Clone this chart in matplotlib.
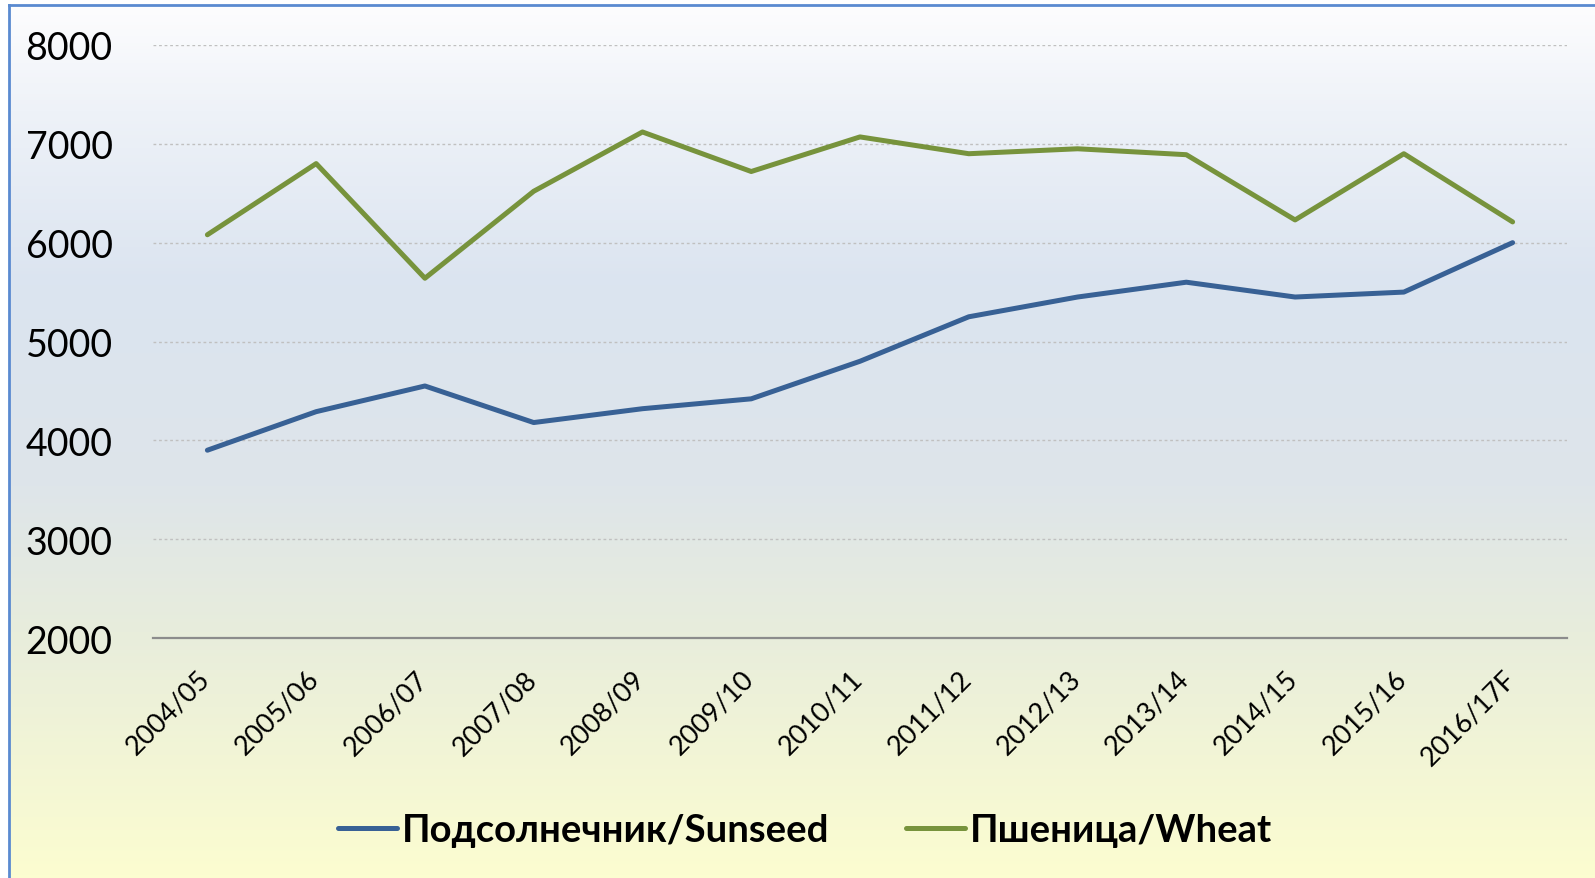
#!/usr/bin/env python3
# Sunseed vs wheat line chart, Excel-style gradient background
import numpy as np
import matplotlib
matplotlib.use("Agg")
import matplotlib.pyplot as plt
import matplotlib.transforms as mtransforms
from matplotlib.colors import LinearSegmentedColormap

# Data
seasons = ["2004/05", "2005/06", "2006/07", "2007/08", "2008/09", "2009/10",
           "2010/11", "2011/12", "2012/13", "2013/14", "2014/15", "2015/16",
           "2016/17F"]
sunseed = [3900, 4290, 4550, 4180, 4320, 4420, 4800, 5250, 5450, 5600,
           5450, 5500, 6000]
wheat = [6080, 6800, 5640, 6520, 7120, 6720, 7070, 6900, 6950, 6890,
         6230, 6900, 6210]
series_labels = ["Подсолнечник/Sunseed", "Пшеница/Wheat"]
y_ticks = [2000, 3000, 4000, 5000, 6000, 7000, 8000]

plt.rcParams['font.family'] = ['Lato', 'DejaVu Sans']

W, H = 1595, 879
fig = plt.figure(figsize=(W / 100, H / 100), dpi=100)
fig.patch.set_facecolor("white")

# Background gradient panel (top white -> blue -> yellow at bottom)
bg = fig.add_axes([9 / W, 0, 1 - 9 / W, 1 - 6 / H])
grad = LinearSegmentedColormap.from_list(
    "bg", [(0.0, "#fdfdfe"), (0.12, "#eef2f8"), (0.32, "#dbe4f0"),
           (0.55, "#dee5ea"), (0.72, "#e8eddc"), (1.0, "#fcfdd0")])
bg.imshow(np.linspace(0, 1, 256).reshape(-1, 1), aspect="auto", cmap=grad,
          extent=[0, 1, 0, 1], origin="upper")
bg.set_xlim(0, 1)
bg.set_ylim(0, 1)
bg.set_xticks([])
bg.set_yticks([])
for side in ["right", "bottom"]:
    bg.spines[side].set_visible(False)
for side in ["left", "top"]:
    bg.spines[side].set_color("#5a8ad0")
    bg.spines[side].set_linewidth(2)

# Main axes
ax = fig.add_axes([153 / W, 1 - 639 / H, (1567 - 153) / W, (639 - 46) / H])
ax.patch.set_alpha(0)
x = np.arange(len(seasons))
ax.plot(x, sunseed, color="#386195", lw=3.6, solid_capstyle="round",
        solid_joinstyle="round", label=series_labels[0], zorder=3)
ax.plot(x, wheat, color="#77933c", lw=3.6, solid_capstyle="round",
        solid_joinstyle="round", label=series_labels[1], zorder=3)

ax.set_xlim(-0.5, len(seasons) - 0.5)
ax.set_ylim(2000, 8000)
ax.set_yticks(y_ticks)
ax.set_yticklabels([str(v) for v in y_ticks], fontsize=27)
ax.set_xticks(x)
ax.set_xticklabels(seasons, rotation=45, ha="right", va="top",
                   rotation_mode="anchor", fontsize=19.5)
ax.tick_params(axis="both", length=0)
ax.tick_params(axis="y", pad=29)
ax.tick_params(axis="x", pad=20)
# nudge rotated labels a bit to the left, like the original
shift = mtransforms.ScaledTranslation(-10 / 100, 0, fig.dpi_scale_trans)
for lbl in ax.get_xticklabels():
    lbl.set_transform(lbl.get_transform() + shift)
ax.grid(axis="y", color="#c0c0c0", linestyle=(0, (2, 2)), linewidth=1)
ax.set_axisbelow(True)
for side in ["left", "right", "top"]:
    ax.spines[side].set_visible(False)
ax.spines["bottom"].set_color("#8c8c8c")
ax.spines["bottom"].set_linewidth(1.6)

leg = fig.legend(loc="center", bbox_to_anchor=(805 / W, 1 - 831 / H), ncol=2,
                 frameon=False, handlelength=1.55, handletextpad=0.12,
                 columnspacing=2.0, prop={"weight": "bold", "size": 27.5})
for line in leg.get_lines():
    line.set_linewidth(3.6)

fig.savefig("out.png", dpi=100)
